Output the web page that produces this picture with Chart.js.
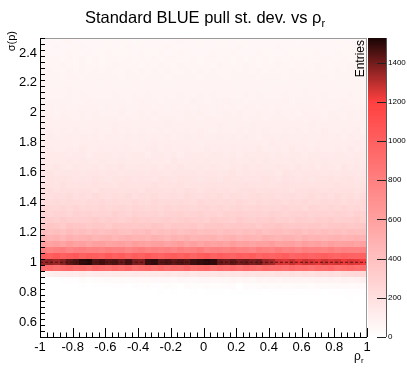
<!DOCTYPE html>
<html>
<head>
<meta charset="utf-8">
<script src="https://cdn.jsdelivr.net/npm/chart.js@4.4.1/dist/chart.umd.min.js"></script>
<style>
  html, body { margin: 0; padding: 0; background: #fff; }
</style>
</head>
<body>
<canvas id="pullChart" width="407" height="374"></canvas>
<script>
// binning of the 2D histogram (50 x 50, bin width 0.04)
const rhoMin = -1, rhoBin = 0.04;
const sigmaMin = 0.5, sigmaBin = 0.04;
const firstRow = 6; // rows below sigma = 0.74 are empty

const rhoTicks = [-1, -0.8, -0.6, -0.4, -0.2, 0, 0.2, 0.4, 0.6, 0.8, 1];
const sigmaTicks = [0.6, 0.8, 1, 1.2, 1.4, 1.6, 1.8, 2, 2.2, 2.4];
const entryTicks = [0, 200, 400, 600, 800, 1000, 1200, 1400];
const entriesMax = 1525;

// dashed reference line at sigma = 1
const refX = [-1, 1];
const refY = [1, 1];

// entries per cell, bottom row first (sigma 0.74-0.78), 50 rho bins per row
const entries = [
  [0,0,0,0,0,0,0,0,0,0,0,0,0,0,0,0,0,0,0,0,0,0,0,0,0,0,0,0,0,0,0,0,0,2,0,0,0,0,0,3,0,0,0,0,0,0,0,4,0,0],
  [0,0,0,0,0,0,0,0,0,0,0,0,0,0,0,3,0,0,4,0,5,0,3,6,0,4,7,5,0,8,6,4,9,7,0,10,8,6,11,9,7,12,10,0,13,11,9,14,12,10],
  [0,0,0,0,0,0,6,0,9,11,7,14,10,0,16,12,18,15,13,20,17,0,22,19,16,24,21,18,26,23,0,27,25,22,29,26,31,28,24,33,30,27,35,32,29,37,34,31,38,36],
  [0,0,0,7,15,12,22,19,27,24,33,29,36,31,40,38,35,44,41,47,39,50,46,43,53,49,57,51,55,60,54,63,58,66,61,69,64,72,67,70,75,71,79,74,82,78,85,81,88,92],
  [68,92,110,114,125,117,131,120,128,136,124,139,133,127,142,138,131,147,140,152,136,149,158,143,155,162,150,167,159,171,163,176,168,181,174,170,186,179,192,184,199,190,205,197,213,204,222,230,238,247],
  [912,935,897,921,948,903,926,889,940,915,898,931,907,944,886,919,928,901,937,893,924,910,946,899,917,932,888,921,905,939,895,927,913,884,930,908,920,896,935,902,918,887,925,909,941,894,916,929,900,911],
  [1345,1362,1338,1371,1428,1455,1497,1512,1443,1468,1436,1451,1422,1460,1392,1385,1478,1491,1437,1452,1425,1446,1430,1472,1489,1505,1496,1418,1402,1431,1395,1410,1387,1404,1342,1328,1262,1247,1281,1239,1270,1255,1233,1268,1244,1259,1226,1251,1237,1215],
  [1032,1005,1041,990,1018,1047,998,1023,1011,985,1036,1002,1019,979,1027,995,1044,1008,983,1014,1030,993,1021,976,1009,1038,987,1016,999,972,1012,990,1025,968,1003,981,995,1017,970,989,1006,978,997,1013,984,969,1000,988,975,992],
  [802,771,795,818,760,789,807,776,793,765,812,784,798,753,790,815,769,801,781,796,758,808,774,792,821,763,786,799,772,810,780,794,756,805,788,767,814,779,797,762,803,783,791,775,809,768,800,787,778,795],
  [612,585,598,571,620,583,602,566,594,611,578,590,603,569,615,588,576,599,607,572,591,618,580,595,564,606,587,599,575,613,582,596,570,604,589,617,577,593,601,568,609,584,597,573,610,586,592,605,579,598],
  [492,468,481,455,497,462,475,489,459,472,486,451,478,494,463,470,457,488,474,449,483,466,491,458,477,469,485,453,473,496,461,479,467,454,487,471,460,482,476,448,490,465,480,457,471,486,462,475,493,468],
  [418,395,407,386,421,398,410,392,415,388,404,419,396,383,409,401,425,390,406,397,413,385,402,418,394,408,399,386,416,403,391,410,397,422,389,405,414,393,400,419,387,406,398,412,395,408,390,417,401,396],
  [337,356,345,329,364,344,350,333,347,344,324,360,345,353,337,347,339,365,344,329,354,345,339,350,324,347,344,361,337,345,354,339,347,329,353,344,364,345,337,347,339,354,344,329,350,345,361,339,347,344],
  [305,314,298,320,305,297,307,303,318,298,314,305,291,307,320,303,314,298,305,314,297,305,321,299,307,291,318,303,307,287,324,305,297,314,303,320,298,307,291,317,305,298,314,303,322,297,307,303,318,291],
  [279,264,277,274,257,288,275,282,268,277,270,293,274,261,283,275,270,279,257,277,274,289,268,275,283,270,277,261,282,274,292,275,268,277,270,283,274,261,279,275,289,270,277,274,268,285,275,261,292,274],
  [261,250,244,258,248,265,243,252,248,262,238,250,258,244,263,250,243,252,248,262,244,258,250,238,252,263,248,258,244,250,258,243,250,264,245,252,238,262,248,252,235,267,250,243,258,248,263,244,252,238],
  [228,221,230,223,235,227,215,232,228,240,223,230,227,221,237,228,215,242,227,232,218,230,227,212,239,228,234,221,230,223,243,227,215,235,228,223,232,212,230,227,240,221,228,235,223,230,215,234,227,242],
  [210,203,216,208,221,204,211,199,219,210,204,216,208,223,203,211,208,220,199,210,216,204,221,210,203,211,208,220,204,216,210,199,211,221,208,216,204,210,216,203,210,222,205,211,199,220,208,211,196,225],
  [195,206,190,196,194,189,203,195,184,208,194,198,186,196,194,181,205,195,200,189,196,190,209,194,184,201,195,190,198,181,196,194,206,189,195,201,190,196,184,200,194,208,195,189,196,190,201,194,184,198],
  [179,181,167,193,180,174,185,179,190,175,181,170,188,180,175,185,179,192,174,181,179,189,170,180,185,175,190,180,174,181,179,189,175,185,180,170,181,190,179,185,175,180,185,174,180,191,176,181,170,189],
  [158,173,167,180,168,162,169,164,174,167,158,171,168,178,164,169,167,162,175,168,158,180,167,171,160,169,167,155,177,168,172,162,169,164,181,167,158,174,168,164,171,155,169,167,178,162,168,174,164,169],
  [156,167,151,158,156,165,148,157,161,152,166,157,151,158,156,165,152,161,157,148,158,166,156,161,152,157,161,151,157,167,153,158,148,165,156,158,145,168,157,151,161,156,166,152,158,148,164,157,152,161],
  [148,143,158,146,138,152,147,143,150,136,148,146,156,142,147,152,143,148,138,151,146,157,147,142,148,143,152,146,138,150,147,156,143,148,146,142,153,147,138,157,146,150,140,148,146,136,155,147,151,142],
  [142,138,130,139,146,137,142,134,138,142,133,138,147,135,139,130,145,137,139,128,148,138,133,142,137,146,134,139,130,144,138,134,142,137,147,133,139,137,145,130,138,142,134,146,138,133,139,137,145,134],
  [122,139,129,133,124,131,129,120,137,130,134,126,131,127,140,129,122,135,130,127,133,120,131,129,138,126,130,135,127,131,122,134,129,139,130,126,131,127,135,129,122,133,130,138,127,131,129,126,136,130],
  [121,128,115,122,125,118,129,122,117,123,121,128,118,125,122,115,123,129,121,125,118,122,125,117,122,130,119,123,115,128,121,123,113,131,122,117,125,121,129,118,123,115,127,122,118,125,121,130,117,123],
  [108,119,115,112,117,106,116,114,122,111,115,119,112,116,108,118,114,123,115,111,116,112,119,114,108,117,115,122,112,116,114,111,120,115,108,123,114,117,110,116,114,106,121,115,118,111,116,112,124,114],
  [102,118,109,105,112,108,115,106,110,103,113,109,106,112,108,117,105,110,108,114,103,109,112,106,116,109,105,110,108,114,106,112,109,103,110,116,108,112,106,109,112,105,109,116,107,110,103,114,108,110],
  [97,105,103,109,100,104,102,99,107,103,97,110,102,105,98,104,102,95,108,103,106,99,104,100,111,102,97,107,103,100,105,95,104,102,109,99,103,107,100,104,97,106,102,110,103,99,104,100,107,102],
  [104,98,95,99,97,103,96,101,98,93,99,104,97,101,96,98,101,95,98,105,96,99,93,103,97,99,92,106,98,95,101,97,104,96,99,93,102,98,96,101,97,105,95,99,97,103,93,98,101,96],
  [92,98,90,93,96,91,94,88,95,92,99,93,90,94,91,96,92,88,95,93,98,91,94,92,90,97,93,88,99,92,95,89,94,92,86,98,93,95,90,94,91,100,92,88,96,93,91,95,86,94],
  [87,90,84,93,89,87,92,88,95,86,90,88,93,84,89,92,87,94,89,86,90,88,93,87,92,89,84,90,94,88,92,87,89,92,86,89,95,87,90,84,93,88,90,83,96,89,86,92,88,94],
  [84,87,81,86,84,79,89,85,87,82,86,83,91,84,80,88,85,83,87,79,86,84,89,82,85,88,83,86,80,87,84,90,85,82,86,83,88,84,80,87,85,89,83,86,84,82,88,85,80,90],
  [80,84,79,83,81,77,82,85,80,83,79,81,83,78,81,86,79,82,77,84,80,82,76,87,81,78,83,80,85,79,82,77,84,81,79,83,80,86,78,82,80,84,77,81,83,79,85,81,78,82],
  [80,75,78,73,79,76,82,77,74,78,75,80,76,73,79,77,81,75,78,76,75,80,77,73,82,76,79,74,78,76,72,81,77,79,74,78,75,83,76,73,80,77,75,79,72,78,76,81,74,77],
  [74,72,76,73,79,71,75,73,77,70,74,76,72,78,74,71,75,73,77,72,76,74,70,75,78,73,76,72,74,76,71,74,78,72,75,70,77,73,75,69,79,74,71,76,73,78,72,75,70,77],
  [73,68,72,69,77,70,67,74,71,69,73,66,72,70,75,68,71,74,69,72,67,73,70,76,71,68,72,69,74,70,67,73,71,75,69,72,70,69,74,71,67,73,70,76,68,72,70,66,75,71],
  [71,67,69,65,73,68,64,70,66,72,67,69,63,71,68,65,70,67,73,64,69,66,71,68,65,72,67,70,64,69,66,71,68,63,70,67,72,65,69,68,71,66,70,70,65,69,72,66,68,63],
  [63,68,65,61,70,64,66,60,67,63,69,65,62,68,64,66,61,70,63,67,65,60,68,64,66,62,69,65,63,67,61,66,64,70,62,68,65,63,67,60,66,64,69,62,65,68,63,66,64,61],
  [65,60,63,68,62,59,66,61,64,58,63,67,60,65,62,57,64,61,68,63,59,66,62,60,65,63,58,67,61,64,60,66,62,59,64,61,67,63,58,65,62,60,66,64,59,63,61,67,62,64],
  [58,63,60,55,62,59,66,57,61,54,60,64,58,62,56,61,59,65,57,60,63,55,59,62,58,64,60,56,61,58,63,57,60,54,62,59,65,58,61,57,63,59,55,62,60,57,64,58,61,59],
  [61,56,53,59,64,57,52,60,58,55,62,54,59,57,50,63,58,56,61,53,57,60,55,59,52,58,63,56,54,60,57,51,59,62,55,58,53,61,56,59,54,57,60,52,58,63,55,57,60,56],
  [58,53,60,55,51,57,62,54,50,56,59,53,57,61,52,55,49,58,54,60,56,51,57,53,59,55,50,58,54,52,61,56,53,49,57,55,60,52,58,54,51,56,59,53,57,50,55,58,52,56],
  [52,57,49,55,60,51,54,48,56,53,59,50,55,52,47,58,54,51,56,49,53,60,55,50,57,52,48,54,59,51,55,53,50,57,49,56,52,58,54,47,55,51,59,53,50,56,52,49,55,58]
];

const FONT = '"Liberation Sans", Arial, Helvetica, sans-serif';

// white -> red -> black palette
function cellColour(v) {
  const t = Math.min(v / entriesMax, 1);
  const knee = 1200 / entriesMax;
  let r, g;
  if (t <= knee) {
    const f = t / knee;
    r = 255; g = 255 - f * 191;
  } else {
    const f = (t - knee) / (1 - knee);
    r = 255 - f * 230; g = 64 - f * 59;
  }
  return 'rgb(' + Math.round(r) + ',' + Math.round(g) + ',' + Math.round(g) + ')';
}

const heatmap = {
  id: 'heatmap',
  beforeDatasetsDraw(chart) {
    const { ctx, scales: { x, y } } = chart;
    ctx.save();
    entries.forEach(function (row, r) {
      const lo = sigmaMin + (firstRow + r) * sigmaBin;
      const yTop = Math.round(y.getPixelForValue(lo + sigmaBin));
      const yBot = Math.round(y.getPixelForValue(lo));
      row.forEach(function (v, i) {
        if (!v) return;
        const left = rhoMin + i * rhoBin;
        const x0 = Math.round(x.getPixelForValue(left));
        const x1 = Math.round(x.getPixelForValue(left + rhoBin));
        ctx.fillStyle = cellColour(v);
        ctx.fillRect(x0, yTop, x1 - x0, yBot - yTop);
      });
    });
    ctx.restore();
  }
};

function line(ctx, x0, y0, x1, y1) {
  ctx.beginPath();
  ctx.moveTo(x0, y0);
  ctx.lineTo(x1, y1);
  ctx.stroke();
}

const decorations = {
  id: 'decorations',
  afterDraw(chart) {
    const { ctx, chartArea: a, scales: { x, y, z } } = chart;
    ctx.save();

    // frame
    ctx.lineWidth = 1;
    ctx.strokeStyle = '#9a9a9a';
    ctx.strokeRect(a.left + 0.5, a.top + 0.5, a.right - a.left - 1, a.bottom - a.top);
    ctx.strokeStyle = '#000';
    line(ctx, a.left + 0.5, a.top, a.left + 0.5, a.bottom + 0.5);
    line(ctx, a.left, a.bottom + 0.5, a.right, a.bottom + 0.5);

    // inner ticks, ROOT style: 10 primary, 5 secondary
    for (let k = 0; k <= 50; k++) {
      const vx = rhoMin + k * rhoBin;
      const px = Math.round(x.getPixelForValue(vx)) + 0.5;
      const major = k % 5 === 0;
      line(ctx, px, a.bottom, px, a.bottom - (major ? 9 : 4.5));
      const vy = sigmaMin + k * sigmaBin;
      const py = Math.round(y.getPixelForValue(vy)) + 0.5;
      const ymajor = Math.abs((vy * 5) - Math.round(vy * 5)) < 1e-6 && k > 0 && k < 50;
      line(ctx, a.left, py, a.left + (ymajor ? 10 : 5), py);
    }

    // colour palette bar
    const barL = z.left + 1, barR = z.left + 19;
    const top = Math.round(z.getPixelForValue(entriesMax));
    const bot = Math.round(z.getPixelForValue(0));
    for (let py = top; py < bot; py++) {
      ctx.fillStyle = cellColour(z.getValueForPixel(py + 0.5));
      ctx.fillRect(barL, py, barR - barL, 1);
    }
    ctx.strokeStyle = '#555';
    line(ctx, barR + 0.5, top, barR + 0.5, bot);
    ctx.strokeStyle = '#222';
    entryTicks.forEach(function (v) {
      const py = Math.round(z.getPixelForValue(v)) + 0.5;
      line(ctx, barR, py, barR - 9, py);
    });

    // title
    ctx.fillStyle = '#000';
    ctx.textBaseline = 'alphabetic';
    ctx.textAlign = 'left';
    const main = 'Standard BLUE pull st. dev. vs ρ';
    ctx.font = '16.5px ' + FONT;
    const wMain = ctx.measureText(main).width;
    ctx.font = '11px ' + FONT;
    const wSub = ctx.measureText('r').width;
    const tx = 205 - (wMain + wSub) / 2;
    ctx.font = '16.5px ' + FONT;
    ctx.fillText(main, tx, 23);
    ctx.font = '11px ' + FONT;
    ctx.fillText('r', tx + wMain, 27);

    // x axis title
    ctx.font = '12px ' + FONT;
    ctx.fillText('ρ', 354, 360);
    ctx.font = '8px ' + FONT;
    ctx.fillText('r', 361, 363);

    // y axis title
    ctx.save();
    ctx.translate(15, 31);
    ctx.rotate(-Math.PI / 2);
    ctx.textAlign = 'right';
    ctx.font = '11px ' + FONT;
    ctx.fillText('σ(p)', 0, 0);
    ctx.restore();

    // z axis title
    ctx.save();
    ctx.translate(364, 40);
    ctx.rotate(-Math.PI / 2);
    ctx.textAlign = 'right';
    ctx.font = '12px ' + FONT;
    ctx.fillText('Entries', 0, 0);
    ctx.restore();

    ctx.restore();
  }
};

new Chart(document.getElementById('pullChart'), {
  type: 'scatter',
  data: {
    datasets: [{
      label: 'sigma = 1',
      data: refX.map(function (v, k) { return { x: v, y: refY[k] }; }),
      showLine: true,
      borderColor: 'rgba(70,10,10,0.85)',
      borderWidth: 1,
      borderDash: [3, 2],
      pointRadius: 0
    }]
  },
  options: {
    responsive: false,
    animation: false,
    events: [],
    layout: { padding: { top: 38, left: 0, right: 0, bottom: 0 } },
    plugins: { legend: { display: false }, tooltip: { enabled: false }, title: { display: false } },
    scales: {
      x: {
        type: 'linear', min: -1, max: 1,
        grid: { display: false, drawTicks: false },
        border: { display: false },
        afterBuildTicks: function (s) { s.ticks = rhoTicks.map(function (v) { return { value: v }; }); },
        ticks: { color: '#000', font: { family: FONT, size: 13 }, padding: 3, maxRotation: 0, autoSkip: false,
          callback: function (v) { return String(v); } },
        afterFit: function (s) { s.height = 37; }
      },
      y: {
        type: 'linear', min: 0.5, max: 2.5,
        grid: { display: false, drawTicks: false },
        border: { display: false },
        afterBuildTicks: function (s) { s.ticks = sigmaTicks.map(function (v) { return { value: v }; }); },
        ticks: { color: '#000', font: { family: FONT, size: 13 }, padding: 3, autoSkip: false,
          callback: function (v) { return String(v); } },
        afterFit: function (s) { s.width = 40; }
      },
      z: {
        type: 'linear', axis: 'y', position: 'right', min: 0, max: entriesMax,
        grid: { display: false, drawTicks: false },
        border: { display: false },
        afterBuildTicks: function (s) { s.ticks = entryTicks.map(function (v) { return { value: v }; }); },
        ticks: { color: '#000', font: { family: FONT, size: 8 }, padding: 21, autoSkip: false,
          callback: function (v) { return String(v); } },
        afterFit: function (s) { s.width = 40; }
      }
    }
  },
  plugins: [heatmap, decorations]
});
</script>
</body>
</html>
